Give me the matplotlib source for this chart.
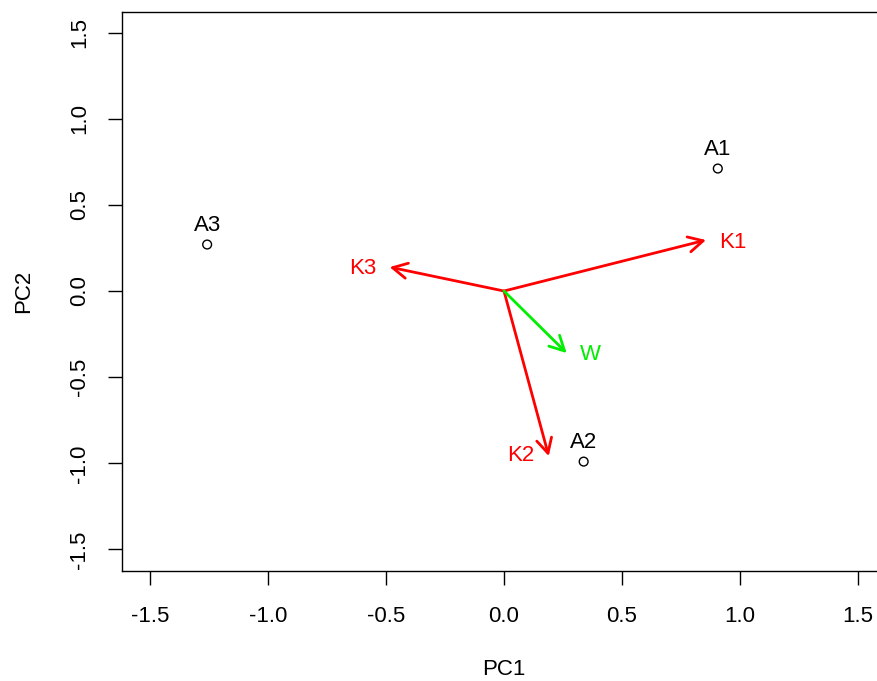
import matplotlib
matplotlib.use('Agg')
import matplotlib.pyplot as plt

# scores (observations)
obs_names = ['A1', 'A2', 'A3']
obs_x = [0.907, 0.338, -1.259]
obs_y = [0.711, -0.990, 0.270]

# loadings (variables)
var_names = ['K1', 'K2', 'K3', 'W']
var_x = [0.857, 0.190, -0.485, 0.266]
var_y = [0.296, -0.958, 0.139, -0.360]
var_colors = ['red', 'red', 'red', '#00ee00']
lab_x = [0.969, 0.072, -0.601, 0.368]
lab_y = [0.281, -0.952, 0.130, -0.367]

ticks = [-1.5, -1.0, -0.5, 0.0, 0.5, 1.0, 1.5]

plt.rcParams['font.family'] = ['Liberation Sans', 'DejaVu Sans']

fig = plt.figure(figsize=(8.78, 6.81), dpi=100)
ax = fig.add_axes([0.139, 0.1615, 0.870, 0.821])

ax.scatter(obs_x, obs_y, s=40, facecolors='none', edgecolors='black', linewidths=1.0, zorder=3)
for n, x, y in zip(obs_names, obs_x, obs_y):
    ax.annotate(n, (x, y), xytext=(0, 6), textcoords='offset points',
                ha='center', va='bottom', fontsize=16)

for n, x, y, c, lx, ly in zip(var_names, var_x, var_y, var_colors, lab_x, lab_y):
    ax.annotate('', xy=(x, y), xytext=(0, 0),
                arrowprops=dict(arrowstyle='->,head_length=1.05,head_width=0.55',
                                color=c, lw=2.0, shrinkA=0, shrinkB=0,
                                mutation_scale=10))
    ax.text(lx, ly, n, color=c, ha='center', va='center', fontsize=16)

ax.set_xlim(-1.62, 1.62)
ax.set_ylim(-1.625, 1.62)
ax.set_xticks(ticks)
ax.set_yticks(ticks)
ax.set_xticklabels(['%.1f' % t for t in ticks])
ax.set_yticklabels(['%.1f' % t for t in ticks], rotation=90, va='center')
ax.tick_params(length=10, width=1.0, labelsize=16)
ax.tick_params(axis='x', pad=15)
ax.tick_params(axis='y', pad=13)
for s in ax.spines.values():
    s.set_linewidth(1.0)

ax.set_xlabel('PC1', fontsize=16, labelpad=23)
ax.set_ylabel('PC2', fontsize=16, labelpad=25)

fig.savefig('out.png', dpi=100)
